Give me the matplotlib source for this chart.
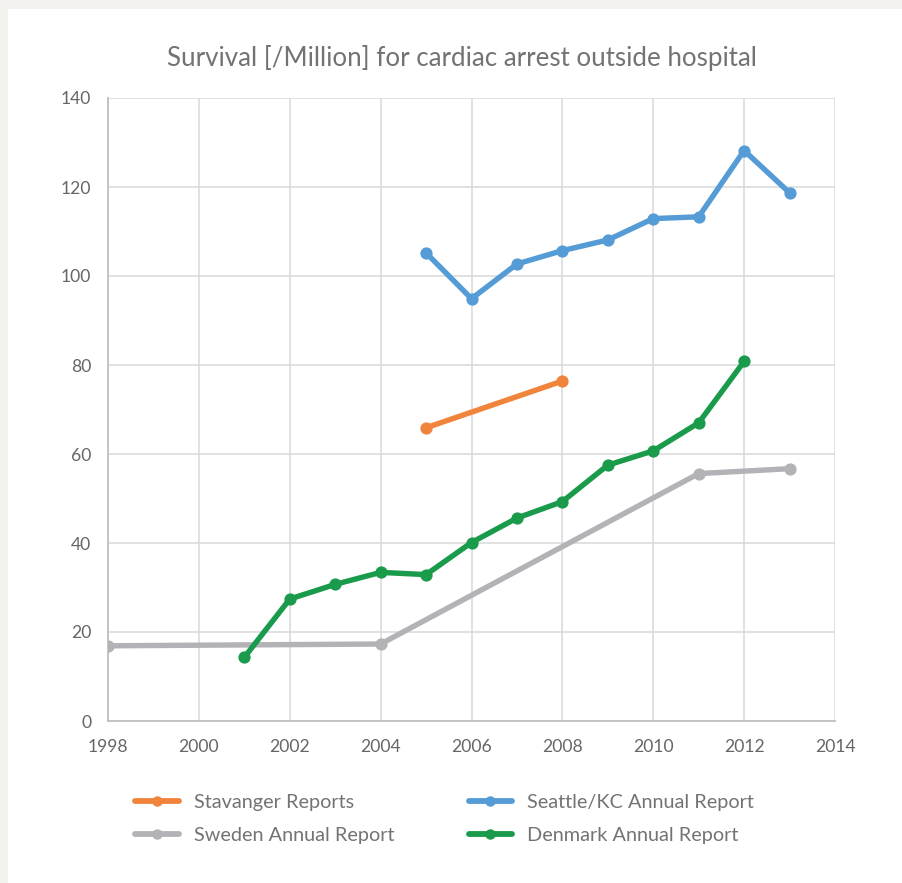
import matplotlib
matplotlib.use("Agg")
import matplotlib.pyplot as plt
from matplotlib.patches import Rectangle

plt.rcParams['font.family'] = ['Lato', 'DejaVu Sans']

stav_years = [2005, 2008]
stav_vals = [65.9, 76.4]

seattle_years = [2005, 2006, 2007, 2008, 2009, 2010, 2011, 2012, 2013]
seattle_vals = [105.2, 94.9, 102.7, 105.7, 108.1, 112.9, 113.3, 128.2, 118.7]

sweden_years = [1998, 2004, 2011, 2013]
sweden_vals = [16.9, 17.3, 55.6, 56.7]

denmark_years = [2001, 2002, 2003, 2004, 2005, 2006, 2007, 2008, 2009, 2010, 2011, 2012]
denmark_vals = [14.3, 27.4, 30.7, 33.4, 32.9, 40.1, 45.6, 49.3, 57.5, 60.7, 67.0, 80.8]

x_ticks = [1998, 2000, 2002, 2004, 2006, 2008, 2010, 2012, 2014]
y_ticks = [0, 20, 40, 60, 80, 100, 120, 140]

title = "Survival [/Million] for cardiac arrest outside hospital"

W, H = 903, 883
fig = plt.figure(figsize=(W / 100, H / 100), dpi=100, facecolor='white')
# light border strips
fig.patches.append(Rectangle((0, 1 - 9 / H), 1, 9 / H, transform=fig.transFigure,
                             facecolor='#f3f2ee', edgecolor='none', zorder=0))
fig.patches.append(Rectangle((0, 0), 8 / W, 1, transform=fig.transFigure,
                             facecolor='#f3f2ee', edgecolor='none', zorder=0))

left, right, top, bottom = 108, 835, 98, 721
ax = fig.add_axes([left / W, 1 - bottom / H, (right - left) / W, (bottom - top) / H])

lw = 3.9
ms = 7.8
ax.plot(stav_years, stav_vals, color='#f0843c', lw=lw, marker='o', ms=ms,
        label='Stavanger Reports', solid_capstyle='round', zorder=3)
ax.plot(sweden_years, sweden_vals, color='#b3b3b7', lw=lw, marker='o', ms=ms,
        label='Sweden Annual Report', solid_capstyle='round', zorder=3)
ax.plot(seattle_years, seattle_vals, color='#559bd6', lw=lw, marker='o', ms=ms,
        label='Seattle/KC Annual Report', solid_capstyle='round', zorder=3)
ax.plot(denmark_years, denmark_vals, color='#1a9b4b', lw=lw, marker='o', ms=ms,
        label='Denmark Annual Report', solid_capstyle='round', zorder=4)

ax.set_xlim(1998, 2014)
ax.set_ylim(0, 140)
ax.set_xticks(x_ticks)
ax.set_yticks(y_ticks)
ax.grid(True, color='#d9d9d9', lw=1.1)
ax.set_axisbelow(True)
for s in ['top', 'right']:
    ax.spines[s].set_visible(False)
for s in ['left', 'bottom']:
    ax.spines[s].set_color('#bfbfbf')
    ax.spines[s].set_linewidth(1.3)
ax.tick_params(length=0, labelsize=12.6, labelcolor='#666666')
ax.tick_params(axis='x', pad=13)
ax.tick_params(axis='y', pad=12)

fig.text(462 / W, 1 - 58 / H, title, ha='center', va='center', fontsize=18.6,
         color='#737373')

leg = fig.legend(loc='upper left', bbox_to_anchor=(135 / W, 1 - 794 / H), ncol=2,
                 frameon=False, fontsize=14.3, labelcolor='#737373',
                 handlelength=2.2, handletextpad=0.75, columnspacing=3.75,
                 labelspacing=0.8, borderpad=0, borderaxespad=0)
for h in leg.legend_handles:
    h.set_markersize(6.5)
    h.set_linewidth(4.2)

fig.savefig('out.png', dpi=100, facecolor='white')
